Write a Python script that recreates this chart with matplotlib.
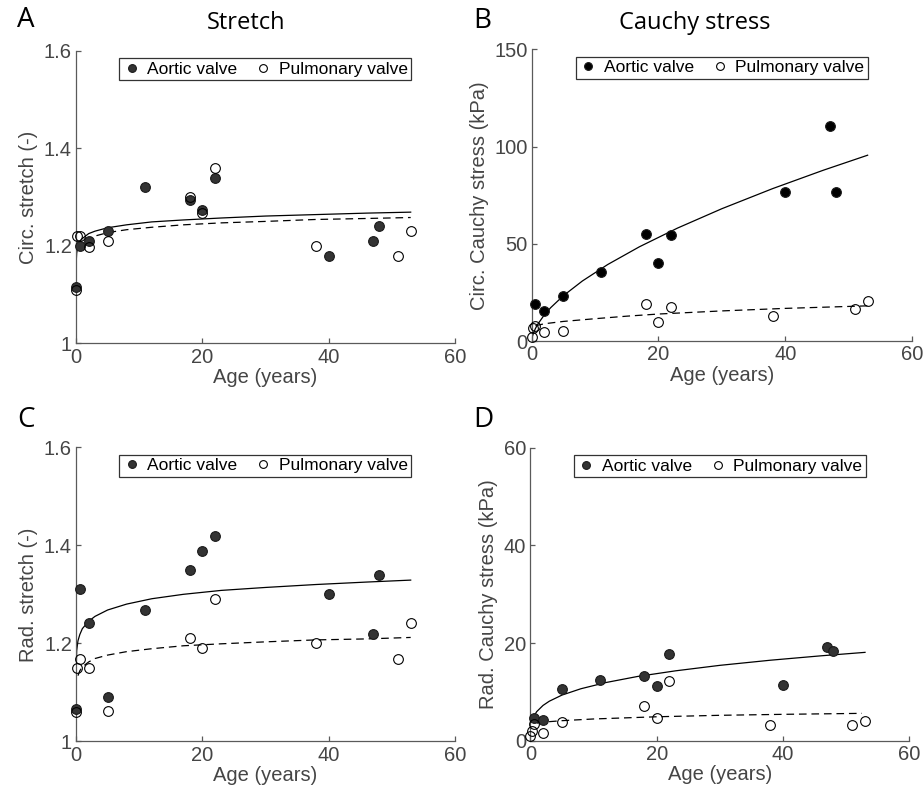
#!/usr/bin/env python3
"""Aortic vs pulmonary valve stretch and Cauchy stress against age (4 panels)"""
import matplotlib
matplotlib.use("Agg")
import matplotlib.pyplot as plt

plt.rcParams['font.family'] = ['Liberation Sans', 'DejaVu Sans']
plt.rcParams['lines.scale_dashes'] = False

# ages of the measured valves
AORTIC_AGE = [0, 0.6, 2, 5, 11, 18, 20, 22, 40, 47, 48]
PULM_AGE = [0, 0.2, 0.6, 2, 5, 18, 20, 22, 38, 51, 53]
# stress panels: the aortic point at age 0 is hidden, so it is left out
AORTIC_AGE_S = [0.6, 2, 5, 11, 18, 20, 22, 40, 47, 48]

# A - circumferential stretch
circ_stretch_av = [1.115, 1.20, 1.21, 1.23, 1.32, 1.293, 1.273, 1.338, 1.179, 1.21, 1.24]
circ_stretch_pv = [1.109, 1.22, 1.22, 1.198, 1.21, 1.30, 1.268, 1.36, 1.199, 1.179, 1.23]
# B - circumferential Cauchy stress (kPa)
circ_stress_av = [19.2, 15.4, 23.5, 35.8, 55.0, 40.0, 54.5, 76.7, 110.5, 76.7]
circ_stress_pv = [2.0, 7.0, 7.8, 5.0, 5.3, 19.0, 9.8, 17.6, 13.0, 16.8, 20.7]
# C - radial stretch
rad_stretch_av = [1.065, 1.31, 1.241, 1.091, 1.269, 1.35, 1.389, 1.42, 1.30, 1.22, 1.339]
rad_stretch_pv = [1.06, 1.15, 1.169, 1.15, 1.061, 1.211, 1.191, 1.29, 1.20, 1.169, 1.241]
# D - radial Cauchy stress (kPa)
rad_stress_av = [4.6, 4.2, 10.5, 12.5, 13.2, 11.1, 17.7, 11.5, 19.2, 18.4]
rad_stress_pv = [1.0, 2.0, 3.5, 1.6, 3.75, 7.2, 4.6, 12.3, 3.2, 3.2, 4.0]

# fitted trend curves
FIT_X = [0, 0.005, 0.03, 0.1, 0.3, 0.6, 1, 2, 3, 5, 8, 12, 17, 23, 30, 38, 46, 53]
fit_circ_stretch_av = [1.0, 1.144, 1.168, 1.185, 1.199, 1.209, 1.215, 1.225, 1.230, 1.237,
                       1.243, 1.249, 1.253, 1.257, 1.261, 1.264, 1.267, 1.269]
fit_rad_stretch_av = [1.0, 1.10, 1.15, 1.185, 1.205, 1.218, 1.23, 1.245, 1.255, 1.268,
                      1.280, 1.291, 1.300, 1.308, 1.314, 1.320, 1.325, 1.329]
FIT_X_PV = [0.3, 0.6, 1, 2, 3, 5, 8, 12, 17, 23, 30, 38, 46, 53]
fit_circ_stretch_pv = [1.190, 1.199, 1.206, 1.215, 1.220, 1.227, 1.233, 1.238, 1.243,
                       1.247, 1.250, 1.254, 1.256, 1.258]
fit_rad_stretch_pv = [1.134, 1.144, 1.152, 1.162, 1.169, 1.176, 1.183, 1.189, 1.195,
                      1.199, 1.203, 1.207, 1.209, 1.212]

FIT_X_B = [0, 0.1, 0.3, 0.6, 1, 2, 3, 5, 8, 12, 17, 23, 30, 38, 46, 53]
fit_circ_stress_av = [0, 2.27, 4.38, 6.62, 8.97, 13.56, 17.27, 23.41, 30.97, 39.44,
                      48.55, 58.14, 68.10, 78.41, 87.86, 95.59]
FIT_X_B_PV = [0.6, 2, 5, 10, 15, 20, 30, 40, 53]
fit_circ_stress_pv = [8.0, 9.0, 10.2, 11.6, 12.9, 14.0, 15.6, 16.9, 18.2]

FIT_X_D = [0.5, 1, 2, 3, 5, 8, 12, 17, 23, 30, 38, 46, 53]
fit_rad_stress_av = [4.90, 5.95, 7.22, 8.09, 9.34, 10.64, 11.92, 13.16, 14.31, 15.43,
                     16.48, 17.38, 18.09]
FIT_X_D_PV = [1, 2, 5, 10, 20, 30, 40, 52.5]
fit_rad_stress_pv = [3.6, 3.8, 4.1, 4.45, 4.9, 5.2, 5.4, 5.6]

GREY_TEXT = '#454545'
GREY_AXIS = '#5a5a5a'


def draw_panel(ax, av_x, av_y, pv_x, pv_y, fit_av, fit_pv, ylim, yticks, ylabel, av_color):
    ax.plot(fit_av[0], fit_av[1], color='black', lw=0.9, zorder=2)
    dl, = ax.plot(fit_pv[0], fit_pv[1], color='black', lw=0.9, zorder=2)
    dl.set_dashes([5.5, 3.5])

    ax.plot(av_x, av_y, 'o', ms=7, mfc=av_color, mec='#1a1a1a', mew=0.8,
            linestyle='none', label='Aortic valve', clip_on=False, zorder=3)
    ax.plot(pv_x, pv_y, 'o', ms=7, mfc='none', mec='black', mew=0.8,
            linestyle='none', label='Pulmonary valve', clip_on=False, zorder=4)

    ax.set_xlim(0, 60)
    ax.set_ylim(*ylim)
    ax.set_xticks([0, 20, 40, 60])
    ax.set_yticks(yticks)
    ax.set_yticklabels([f'{t:g}' for t in yticks])
    ax.spines['top'].set_visible(False)
    ax.spines['right'].set_visible(False)
    for s in ('left', 'bottom'):
        ax.spines[s].set_color(GREY_AXIS)
        ax.spines[s].set_linewidth(0.9)
    ax.tick_params(direction='in', length=3.5, width=0.9, color=GREY_AXIS,
                   labelsize=14.5, labelcolor=GREY_TEXT, pad=3)
    ax.set_xlabel('Age (years)', fontsize=14.5, color=GREY_TEXT, labelpad=1)
    ax.set_ylabel(ylabel, fontsize=14.5, color=GREY_TEXT, labelpad=4)

    leg = ax.legend(loc='upper center', bbox_to_anchor=(0.5, 0.975), ncol=2,
                    fontsize=12.5, frameon=True, fancybox=False, framealpha=1,
                    edgecolor='#333333', borderpad=0.2, handlelength=1.0,
                    handletextpad=0.4, columnspacing=1.0, borderaxespad=0,
                    markerscale=0.8)
    leg.get_frame().set_linewidth(0.9)


fig = plt.figure(figsize=(9.24, 7.90), dpi=100)
axA = fig.add_axes([0.0823, 0.5654, 0.410, 0.3704])
axB = fig.add_axes([0.5754, 0.5680, 0.4116, 0.3696])
axC = fig.add_axes([0.0823, 0.0616, 0.410, 0.3722])
axD = fig.add_axes([0.5740, 0.0624, 0.410, 0.3709])

draw_panel(axA, AORTIC_AGE, circ_stretch_av, PULM_AGE, circ_stretch_pv,
           (FIT_X, fit_circ_stretch_av), (FIT_X_PV, fit_circ_stretch_pv),
           (1, 1.6), [1, 1.2, 1.4, 1.6], 'Circ. stretch (-)', '#333333')
draw_panel(axB, AORTIC_AGE_S, circ_stress_av, PULM_AGE, circ_stress_pv,
           (FIT_X_B, fit_circ_stress_av), (FIT_X_B_PV, fit_circ_stress_pv),
           (0, 150), [0, 50, 100, 150], 'Circ. Cauchy stress (kPa)', 'black')
draw_panel(axC, AORTIC_AGE, rad_stretch_av, PULM_AGE, rad_stretch_pv,
           (FIT_X, fit_rad_stretch_av), (FIT_X_PV, fit_rad_stretch_pv),
           (1, 1.6), [1, 1.2, 1.4, 1.6], 'Rad. stretch (-)', '#333333')
draw_panel(axD, AORTIC_AGE_S, rad_stress_av, PULM_AGE, rad_stress_pv,
           (FIT_X_D, fit_rad_stress_av), (FIT_X_D_PV, fit_rad_stress_pv),
           (0, 60), [0, 20, 40, 60], 'Rad. Cauchy stress (kPa)', '#333333')

# column titles and panel letters
title_font = dict(family=['Open Sans', 'DejaVu Sans'], color='black')
fig.text(246 / 924, 1 - 23 / 790, 'Stretch', fontsize=17, ha='center', va='center', **title_font)
fig.text(695 / 924, 1 - 23 / 790, 'Cauchy stress', fontsize=17, ha='center', va='center', **title_font)
for letter, x, y in [('A', 26, 20), ('B', 482, 21), ('C', 26, 420), ('D', 483, 420)]:
    fig.text(x / 924, 1 - y / 790, letter, fontsize=20, ha='center', va='center', **title_font)

plt.savefig('out.png', dpi=100)
plt.close()
